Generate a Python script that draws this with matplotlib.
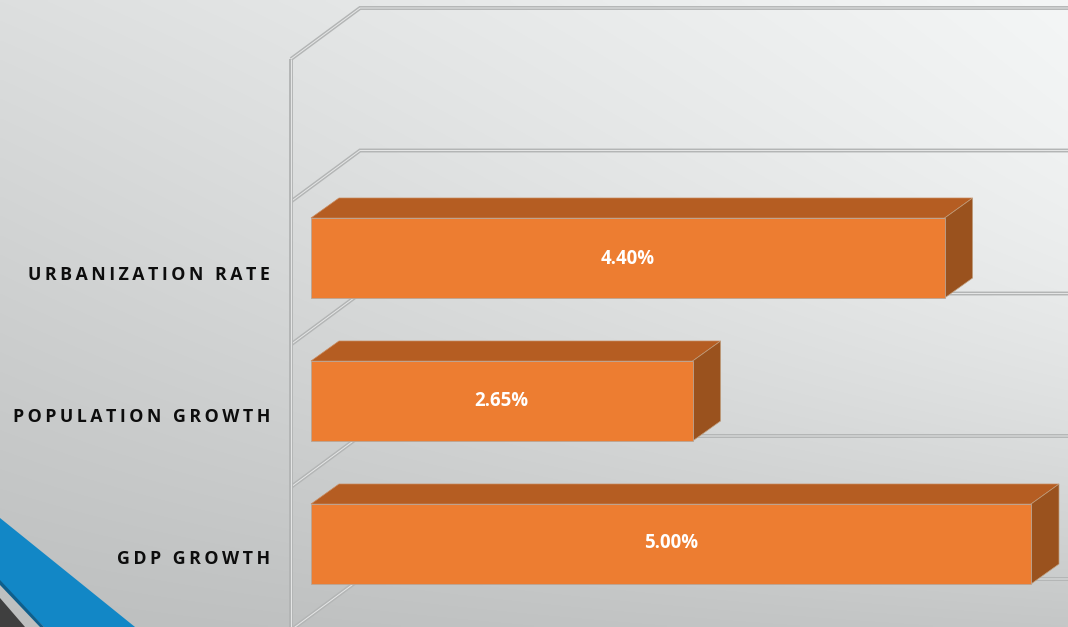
import numpy as np
import matplotlib
matplotlib.use('Agg')
import matplotlib.pyplot as plt
from matplotlib.patches import Polygon

categories = ['GDP GROWTH', 'POPULATION GROWTH', 'URBANIZATION RATE']
values = [5.00, 2.65, 4.40]
value_labels = ['5.00%', '2.65%', '4.40%']

W, H = 1068, 627
PX_X = 144.0   # pixels per percentage point
PX_Y = 143.0   # pixels per category
X0, Y0 = 311.0, 544.0   # pixel position of value 0 / first category centre

plt.rcParams['font.family'] = ['Open Sans', 'DejaVu Sans']

fig = plt.figure(figsize=(W / 100, H / 100), dpi=100)
ax = fig.add_axes([0, 0, 1, 1])


def dx(px):
    return px / PX_X


def dy(px):
    return px / PX_Y


# background: soft diagonal grey gradient, corners are TL, TR, BL, BR
u, v = np.meshgrid(np.linspace(0, 1, 300), np.linspace(0, 1, 200))
tl, tr, bl, br = 222, 245, 190, 198
bg = (1 - v) * ((1 - u) * tl + u * tr) + v * ((1 - u) * bl + u * br)
# the right side stays lighter further down
bg = bg + 10 * u * np.sin(np.pi * v)
bg = np.dstack([bg - 1, bg + 1, bg + 1]) / 255
ax.imshow(bg.clip(0, 1), extent=[0, 1, 0, 1], transform=ax.transAxes,
          aspect='auto', zorder=0, interpolation='bilinear')
ax.set_xlim(-X0 / PX_X, (W - X0) / PX_X)
ax.set_ylim((Y0 - H) / PX_Y, Y0 / PX_Y)
ax.axis('off')

# corner decoration, axes fractions
corner = ax.transAxes
ax.add_patch(Polygon([(0, 1 - 518 / H), (135 / W, 0), (44 / W, 0), (0, 1 - 582 / H)],
                     closed=True, fc='#1287C6', ec='none', transform=corner, zorder=1))
ax.add_patch(Polygon([(0, 1 - 580 / H), (44 / W, 0), (40 / W, 0), (0, 1 - 585 / H)],
                     closed=True, fc='#0F5F8C', ec='none', transform=corner, zorder=1))
ax.add_patch(Polygon([(0, 1 - 598 / H), (25 / W, 0), (0, 0)],
                     closed=True, fc='#3F3F3F', ec='none', transform=corner, zorder=1))


def wall_line(xs, ys):
    # gridlines have a grey body with a pale core
    ax.plot(xs, ys, color='#B3B5B5', lw=2.8, zorder=2, solid_joinstyle='miter', solid_capstyle='butt')
    ax.plot(xs, ys, color='#E6E7E7', lw=0.7, zorder=2, solid_joinstyle='miter', solid_capstyle='butt')


# 3-D wall: front upright, diagonals and back gridlines
wall_front = dx(291 - X0)
wall_back = dx(360 - X0)
right_end = dx(W - X0 + 5)
front_y = [(544 - py) / PX_Y for py in (59, 201.5, 344.5, 487, 630)]
depth_y = dy(51)
for fy in front_y:
    wall_line([wall_front, wall_back, right_end], [fy, fy + depth_y, fy + depth_y])
wall_line([wall_front, wall_front], [front_y[0], front_y[-1]])

# bars as boxes
bar_h = dy(80)
off_x, off_y = dx(28), dy(20)
for i, val in enumerate(values):
    b, t = i - bar_h / 2, i + bar_h / 2
    ax.add_patch(Polygon([(0, t), (val, t), (val + off_x, t + off_y), (off_x, t + off_y)],
                         closed=True, fc='#B55D22', ec='#C98A5E', lw=0.5, zorder=3))
    ax.add_patch(Polygon([(val, b), (val + off_x, b + off_y), (val + off_x, t + off_y), (val, t)],
                         closed=True, fc='#9A521E', ec='#C0A080', lw=0.5, zorder=3))
    ax.barh(i, val, height=bar_h, left=0, color='#ED7D31', edgecolor='#B9A596', linewidth=0.6, zorder=4)
    # text rows sit 142 px apart, one pixel closer than the bars
    ax.text(val / 2, i + dy(1 - i), value_labels[i], color='white', fontsize=13.4, fontweight='bold',
            ha='center', va='center', zorder=5)
    # thin spaces stand in for the wide letter spacing
    ax.text(dx(270 - X0), i + dy(-15.5 - i), '\u2009'.join(categories[i]), color='#0D0D0D',
            fontsize=12.8, fontweight='bold', ha='right', va='center', zorder=5)

fig.savefig('out.png', dpi=100)
